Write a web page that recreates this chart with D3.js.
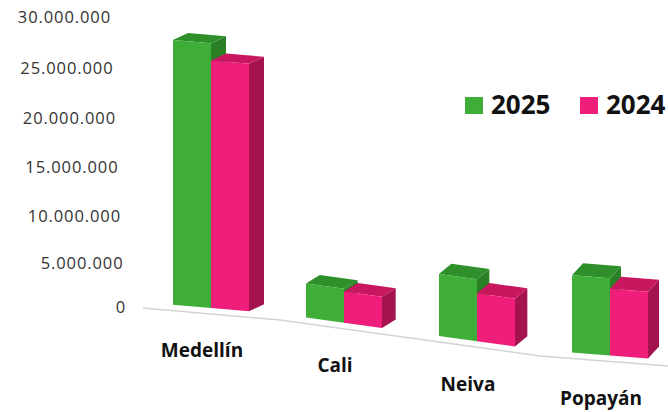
<!DOCTYPE html>
<html>
<head>
<meta charset="utf-8">
<script src="https://cdn.jsdelivr.net/npm/d3@7"></script>
<style>
  html, body { margin: 0; padding: 0; background: #fff; }
  svg { display: block; }
</style>
</head>
<body>
<svg id="chart" width="668" height="412"></svg>
<script>
// chart data
const cities = ["Medellín", "Cali", "Neiva", "Popayán"];
const seriesNames = ["2025", "2024"];
const values2025 = [27500000, 3900000, 6900000, 8500000];
const values2024 = [25800000, 3600000, 5400000, 7400000];
const tickValues = [0, 5000000, 10000000, 15000000, 20000000, 25000000, 30000000];

const svg = d3.select("#chart");
const fmt = v => d3.format(",")(v).replace(/,/g, ".");

// vertical value scale (slight perspective stretch towards the top)
const y = d3.scalePow().exponent(1.05).domain([0, 30000000]).range([307.5, 17.5]);
// tick labels drift right as they go down
const tickX = d3.scaleLinear().domain([0, 30000000]).range([126, 111]);

// category positions along the tilted floor
const groupX = d3.scalePoint().domain(cities).range([211, 610]);
const floorY = d3.scaleLinear().domain([143, 280, 540, 668]).range([308, 320, 356, 366]);
const depthX = d3.scaleLinear().domain([0, 3]).range([15, 11]);
const depthY = d3.scaleLinear().domain([0, 3]).range([7, 12]);
const labelDrop = d3.scaleLinear().domain([0, 3]).range([43, 44]);
const barW = 38;

const colors = {
  "2025": { front: "#3fae38", top: "#2f8f2a", side: "#2a8025" },
  "2024": { front: "#ee1e7a", top: "#c8175f", side: "#a5134f" }
};

// floor line
svg.append("path")
  .attr("d", d3.line()(floorY.domain().map(x => [x, floorY(x)])))
  .attr("fill", "none")
  .attr("stroke", "#d4d4d4")
  .attr("stroke-width", 1.5);

// y tick labels
svg.append("g").selectAll("text")
  .data(tickValues)
  .join("text")
  .attr("x", d => tickX(d))
  .attr("y", d => y(d))
  .attr("dy", "0.36em")
  .attr("text-anchor", "end")
  .attr("font-family", "'Open Sans', sans-serif")
  .attr("font-size", 16.5)
  .attr("letter-spacing", 0.9)
  .attr("fill", "#333")
  .text(d => fmt(d));

// bars
const bars = [];
cities.forEach((c, i) => {
  [values2025[i], values2024[i]].forEach((v, s) => {
    const x0 = groupX(c) - barW + s * barW;
    bars.push({ city: c, i, series: seriesNames[s], value: v, x0, x1: x0 + barW });
  });
});

const gBars = svg.append("g");
bars.forEach(b => {
  const h = y(0) - y(b.value);
  const bl = floorY(b.x0) - 6, br = floorY(b.x1) - 6;
  const tl = bl - h, tr = br - h;
  const dx = depthX(b.i), dy = depthY(b.i);
  const col = colors[b.series];
  const g = gBars.append("g");
  // side face
  g.append("polygon")
    .attr("points", [[b.x1, tr], [b.x1 + dx, tr - dy], [b.x1 + dx, br - dy], [b.x1, br]].join(" "))
    .attr("fill", col.side);
  // top face
  g.append("polygon")
    .attr("points", [[b.x0, tl], [b.x0 + dx, tl - dy], [b.x1 + dx, tr - dy], [b.x1, tr]].join(" "))
    .attr("fill", col.top);
  // front face
  g.append("polygon")
    .attr("points", [[b.x0, tl], [b.x1, tr], [b.x1, br], [b.x0, bl]].join(" "))
    .attr("fill", col.front);
});

// category labels
svg.append("g").selectAll("text")
  .data(cities)
  .join("text")
  .attr("x", d => groupX(d) - 9)
  .attr("y", (d, i) => floorY(groupX(d)) + labelDrop(i))
  .attr("text-anchor", "middle")
  .attr("font-family", "'Open Sans', sans-serif")
  .attr("font-weight", "bold")
  .attr("font-size", 19)
  .attr("fill", "#111")
  .text(d => d);

// legend
const legend = svg.append("g").attr("transform", "translate(465,97)");
const li = legend.selectAll("g")
  .data(seriesNames)
  .join("g")
  .attr("transform", (d, i) => `translate(${i * 115},0)`);
li.append("rect")
  .attr("width", 18).attr("height", 17)
  .attr("fill", d => colors[d].front);
li.append("text")
  .attr("x", 26).attr("y", 17)
  .attr("font-family", "'Open Sans', sans-serif")
  .attr("font-weight", "bold")
  .attr("font-size", 26)
  .attr("fill", "#111")
  .text(d => d);
</script>
</body>
</html>
